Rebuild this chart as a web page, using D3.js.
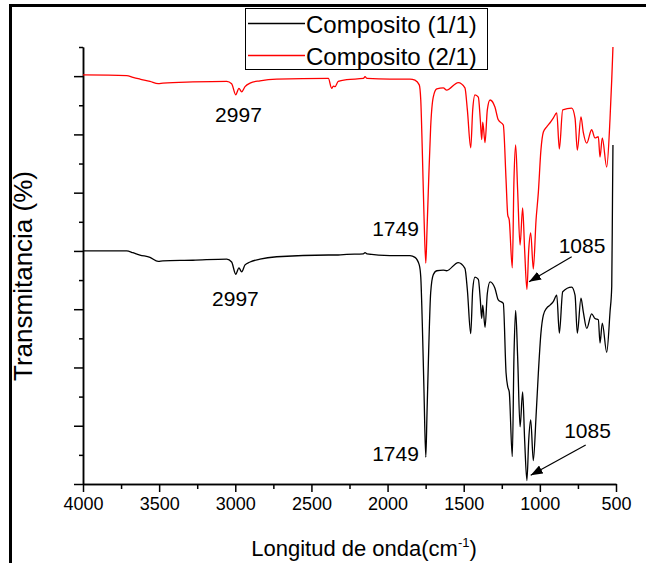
<!DOCTYPE html>
<html>
<head>
<meta charset="utf-8">
<script src="https://cdn.jsdelivr.net/npm/d3@7"></script>
<style>
  body { margin: 0; background: #fff; }
  text { font-family: "Liberation Sans", Arial, sans-serif; fill: #000; }
</style>
</head>
<body>
<svg id="grafico" width="646" height="563"></svg>
<script>
// numeros de onda (cm-1), do maior para o menor
var wavenumbers = [4000, 3713, 3672, 3626, 3560, 3506, 3475, 3278, 3056, 3024,
  2997, 2976, 2958, 2936, 2903, 2838, 2728, 2389, 2367, 2356,
  2345, 2324, 2268, 2159, 2148, 2135, 1984, 1853, 1820, 1792,
  1782, 1772, 1761, 1749, 1741, 1730, 1717, 1700, 1677, 1634,
  1612, 1536, 1492, 1476, 1454, 1441, 1426, 1404, 1391, 1382,
  1375, 1360, 1345, 1327, 1295, 1273, 1240, 1222, 1211, 1201,
  1181, 1170, 1159, 1146, 1130, 1113, 1100, 1085, 1073, 1060,
  1043, 1025, 1010, 993, 977, 955, 933, 912, 889, 872,
  850, 791, 769, 754, 730, 715, 692, 660, 638, 616,
  605, 590, 561, 539, 528, 523, 520];

// Composito (1/1) - linha preta
var composito11 = [40.0, 40.0, 39.7, 39.3, 38.9, 38.2, 38.3, 38.4, 38.6, 38.1,
  36.0, 37.1, 36.4, 37.6, 38.1, 38.6, 39.0, 39.3, 39.3, 39.3,
  39.3, 39.3, 39.4, 39.5, 39.7, 39.5, 39.2, 39.2, 38.9, 37.6,
  35.5, 27.6, 16.1, 4.6, 12.2, 23.0, 32.8, 35.9, 36.6, 36.7,
  36.6, 38.0, 37.0, 33.3, 25.8, 33.3, 35.5, 35.1, 31.6, 28.4,
  30.7, 26.9, 32.7, 34.7, 33.6, 31.6, 31.0, 19.1, 16.7, 15.8,
  4.7, 21.9, 29.8, 21.9, 9.8, 15.8, 7.6, 0.6, 7.6, 11.0,
  4.0, 11.6, 19.0, 25.9, 29.0, 30.2, 30.7, 31.3, 32.4, 25.9,
  33.0, 33.8, 32.4, 25.9, 31.9, 29.6, 26.7, 29.2, 28.4, 28.2,
  24.2, 27.6, 22.6, 29.6, 33.9, 48.8, 58.2];

// Composito (2/1) - linha vermelha
var composito21 = [70.2, 70.1, 69.8, 69.5, 69.1, 68.7, 68.8, 69.0, 69.1, 68.7,
  66.8, 67.9, 67.3, 68.2, 68.8, 69.2, 69.5, 69.6, 67.9, 68.3,
  68.2, 69.1, 69.4, 69.6, 69.9, 69.6, 69.5, 69.5, 69.3, 68.5,
  65.9, 57.3, 46.2, 37.9, 43.6, 52.2, 61.3, 66.4, 67.8, 68.0,
  67.6, 68.9, 68.0, 64.2, 57.7, 64.2, 66.8, 66.4, 62.5, 59.1,
  62.1, 58.6, 64.2, 65.9, 64.7, 62.5, 61.6, 52.2, 46.2, 45.3,
  37.1, 52.2, 58.2, 50.5, 41.0, 47.4, 40.2, 33.4, 40.2, 43.1,
  36.9, 45.3, 50.0, 57.3, 60.4, 61.3, 62.0, 62.8, 63.7, 57.5,
  64.2, 64.5, 62.8, 57.3, 63.0, 60.4, 58.5, 60.8, 59.4, 59.6,
  56.1, 59.4, 54.4, 62.8, 69.4, 72.8, 75.0];

var nomesSeries = ["Composito (1/1)", "Composito (2/1)"];
var coresSeries = ["#000000", "#ff0000"];

var xTicksMaior = [4000, 3500, 3000, 2500, 2000, 1500, 1000, 500];
var xTicksMenor = [3750, 3250, 2750, 2250, 1750, 1250, 750];
var yTicksMaior = [0, 10, 20, 30, 40, 50, 60, 70];
var yTicksMenor = [5, 15, 25, 35, 45, 55, 65, 75];

// rotulos dos picos (posicao do texto em unidades do grafico)
var picoTexto = ["2997", "1749", "1085", "2997", "1749", "1085"];
var picoX = [2979, 1948, 723, 2999, 1948, 687];
var picoY = [62.1, 42.6, 39.7, 30.6, 3.9, 7.9];

// setas: [numero de onda, valor] inicio e ponta
var setaInicio = [[791, 39.0], [699, 6.7]];
var setaPonta = [[1071, 34.7], [1060, 1.5]];

var svg = d3.select("#grafico");

// moldura grossa da figura original
svg.append("rect")
  .attr("x", 10.5).attr("y", 5.5)
  .attr("width", 700).attr("height", 700)
  .style("fill", "none").style("stroke", "#000").style("stroke-width", 3);

var x = d3.scaleLinear().domain([4000, 500]).range([83, 616]);
var y = d3.scaleLinear().domain([0, 75]).range([484, 47]);

var eixoX = svg.append("g").attr("transform", "translate(0,484)");
eixoX.call(d3.axisBottom(x).tickValues(xTicksMaior).tickSize(8).tickSizeOuter(0).tickFormat(d3.format("d")));
eixoX.append("g").call(d3.axisBottom(x).tickValues(xTicksMenor).tickSize(5).tickSizeOuter(0).tickFormat(""));
eixoX.selectAll("text").style("font-size", "18px").attr("dy", "0.95em").attr("y", 9);

var eixoY = svg.append("g").attr("transform", "translate(83,0)");
eixoY.call(d3.axisLeft(y).tickValues(yTicksMaior).tickSize(9).tickSizeOuter(0).tickFormat(""));
eixoY.append("g").call(d3.axisLeft(y).tickValues(yTicksMenor).tickSize(4).tickSizeOuter(0).tickFormat(""));

svg.selectAll(".domain, .tick line").style("stroke", "#000").style("stroke-width", 1.5);

// titulos
svg.append("text")
  .attr("x", 364).attr("y", 556)
  .style("text-anchor", "middle").style("font-size", "22px")
  .text("Longitud de onda(cm")
  .append("tspan").attr("dy", -9).style("font-size", "13px").text("-1")
  .select(function() { return this.parentNode; })
  .append("tspan").attr("dy", 9).style("font-size", "22px").text(")");

svg.append("text")
  .attr("transform", "translate(32,276) rotate(-90)")
  .style("text-anchor", "middle").style("font-size", "26px")
  .text("Transmitancia (%)");

// espectros
var series = [composito11, composito21];
var linha = d3.line()
  .x(function(d) { return x(d[0]); })
  .y(function(d) { return y(d[1]); })
  .curve(d3.curveMonotoneX);

svg.selectAll(".espectro")
  .data(series)
  .enter()
  .append("path")
  .attr("class", "espectro")
  .attr("d", function(s) { return linha(wavenumbers.map(function(w, i) { return [w, s[i]]; })); })
  .style("fill", "none")
  .style("stroke", function(s, i) { return coresSeries[i]; })
  .style("stroke-width", 1.3);

// rotulos dos picos
svg.selectAll(".pico")
  .data(picoTexto)
  .enter()
  .append("text")
  .attr("class", "pico")
  .attr("x", function(d, i) { return x(picoX[i]); })
  .attr("y", function(d, i) { return y(picoY[i]); })
  .style("text-anchor", "middle").style("font-size", "21px")
  .text(function(d) { return d; });

// setas
svg.append("defs").append("marker")
  .attr("id", "ponta")
  .attr("markerUnits", "userSpaceOnUse")
  .attr("markerWidth", 13).attr("markerHeight", 9)
  .attr("refX", 12).attr("refY", 4.5)
  .attr("orient", "auto")
  .append("path").attr("d", "M0,0 L12,4.5 L0,9 Z").style("fill", "#000");

svg.selectAll(".seta")
  .data(setaInicio)
  .enter()
  .append("line")
  .attr("class", "seta")
  .attr("x1", function(d) { return x(d[0]); })
  .attr("y1", function(d) { return y(d[1]); })
  .attr("x2", function(d, i) { return x(setaPonta[i][0]); })
  .attr("y2", function(d, i) { return y(setaPonta[i][1]); })
  .style("stroke", "#000").style("stroke-width", 1.2)
  .attr("marker-end", "url(#ponta)");

// legenda
var legenda = svg.append("g");
legenda.append("rect")
  .attr("x", 245.5).attr("y", 8.5).attr("width", 242).attr("height", 61)
  .style("fill", "#fff").style("stroke", "#000").style("stroke-width", 1);
nomesSeries.forEach(function(nome, i) {
  var ly = 23.5 + i * 32;
  legenda.append("line")
    .attr("x1", 248).attr("x2", 305).attr("y1", ly).attr("y2", ly)
    .style("stroke", coresSeries[i]).style("stroke-width", 1.3);
  legenda.append("text")
    .attr("x", 306).attr("y", ly + 9)
    .style("font-size", "24px")
    .text(nome);
});
</script>
</body>
</html>
